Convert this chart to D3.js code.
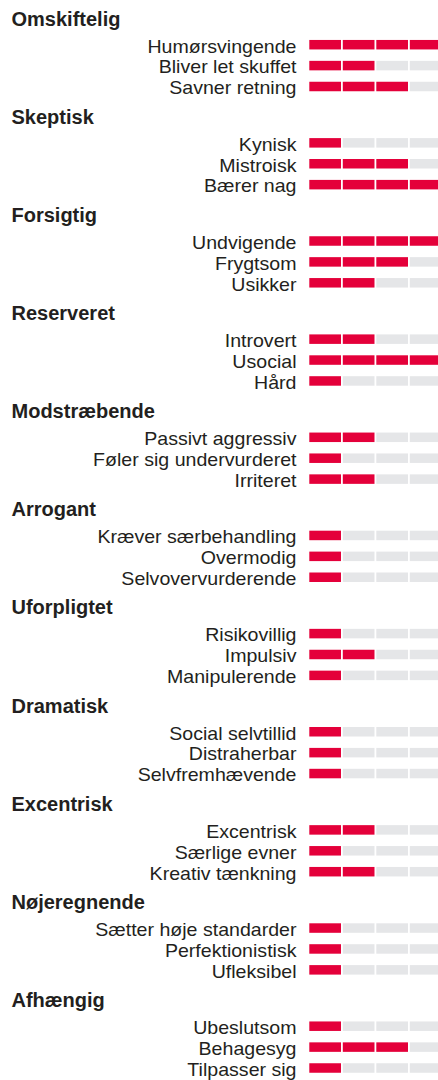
<!DOCTYPE html>
<html>
<head>
<meta charset="utf-8">
<script src="https://cdn.jsdelivr.net/npm/d3@7"></script>
<style>
  html, body { margin: 0; padding: 0; background: #fff; }
  svg { display: block; }
  .heading { font-family: "Liberation Sans", Arial, sans-serif; font-weight: bold; font-size: 20px; fill: #231f20; }
  .label { font-family: "Liberation Sans", Arial, sans-serif; font-size: 17.8px; fill: #231f20; }
</style>
</head>
<body>
<script>
// data
const groups = ["Omskiftelig", "Skeptisk", "Forsigtig", "Reserveret", "Modstræbende",
  "Arrogant", "Uforpligtet", "Dramatisk", "Excentrisk", "Nøjeregnende", "Afhængig"];
const traits = [
  ["Humørsvingende", "Bliver let skuffet", "Savner retning"],
  ["Kynisk", "Mistroisk", "Bærer nag"],
  ["Undvigende", "Frygtsom", "Usikker"],
  ["Introvert", "Usocial", "Hård"],
  ["Passivt aggressiv", "Føler sig undervurderet", "Irriteret"],
  ["Kræver særbehandling", "Overmodig", "Selvovervurderende"],
  ["Risikovillig", "Impulsiv", "Manipulerende"],
  ["Social selvtillid", "Distraherbar", "Selvfremhævende"],
  ["Excentrisk", "Særlige evner", "Kreativ tænkning"],
  ["Sætter høje standarder", "Perfektionistisk", "Ufleksibel"],
  ["Ubeslutsom", "Behagesyg", "Tilpasser sig"]
];
const scores = [
  [4, 2, 3],
  [1, 3, 4],
  [4, 3, 2],
  [2, 4, 1],
  [2, 1, 2],
  [1, 1, 1],
  [1, 2, 1],
  [1, 1, 1],
  [2, 1, 2],
  [1, 1, 1],
  [1, 3, 1]
];
const levels = [1, 2, 3, 4];

// layout
const width = 438, height = 1080,
      groupStep = 98.15,
      rowStep = 20.9,
      barHeight = 9.5,
      labelRight = 296.5;

const svg = d3.select("body").append("svg")
    .attr("width", width)
    .attr("height", height);

// segment scale (4 blocks per trait)
const x = d3.scaleBand()
    .domain(levels)
    .range([309.3, 441.5])
    .paddingInner(0.054)
    .paddingOuter(0);

const yGroup = d3.scaleLinear().domain([0, 1]).range([0, groupStep]);
const yRow = d3.scaleLinear().domain([0, 1]).range([44.7, 44.7 + rowStep]);

const g = svg.selectAll("g.group")
  .data(groups.map((name, i) => ({name, i,
      rows: traits[i].map((t, j) => ({label: t, j, value: scores[i][j]}))})))
  .join("g")
    .classed("group", true)
    .attr("transform", d => `translate(0,${yGroup(d.i)})`);

// heading
g.append("text")
    .classed("heading", true)
    .attr("x", 11.5)
    .attr("y", 25.5)
    .text(d => d.name);

const row = g.selectAll("g.row")
  .data(d => d.rows)
  .join("g")
    .classed("row", true)
    .attr("transform", d => `translate(0,${yRow(d.j)})`);

// trait label, slightly wide type like the original
row.append("text")
    .classed("label", true)
    .attr("text-anchor", "end")
    .attr("transform", `translate(${labelRight},7.8) scale(1.1,1)`)
    .text(d => d.label);

// segments
row.selectAll("rect")
  .data(d => levels.map(l => ({l, on: l <= d.value})))
  .join("rect")
    .attr("x", d => x(d.l))
    .attr("y", -barHeight / 2)
    .attr("width", x.bandwidth())
    .attr("height", barHeight)
    .attr("fill", d => d.on ? "#e4003a" : "#e5e6e8");
</script>
</body>
</html>
